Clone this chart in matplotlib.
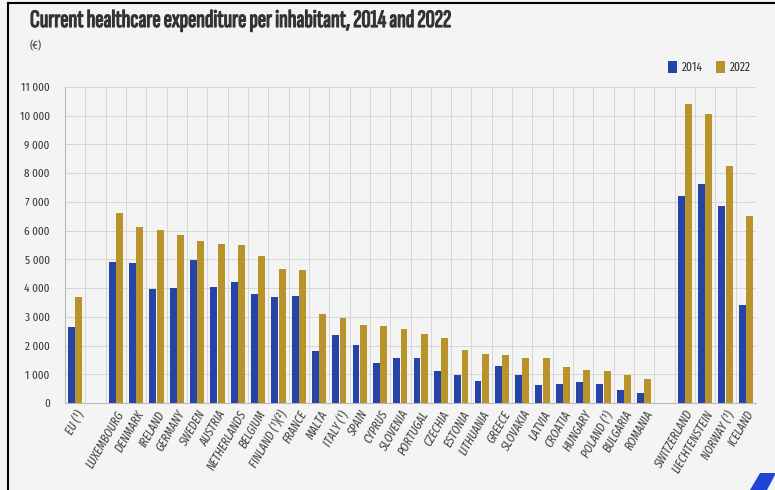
import matplotlib
matplotlib.use("Agg")
import matplotlib.pyplot as plt
import matplotlib.patheffects as pe
from matplotlib.lines import Line2D
from matplotlib.patches import Polygon
import numpy as np

# ---- data (EUR per inhabitant) ----
eu_label = ["EU (¹)"]
eu_2014 = [2645]
eu_2022 = [3685]

countries = ["LUXEMBOURG", "DENMARK", "IRELAND", "GERMANY", "SWEDEN", "AUSTRIA",
             "NETHERLANDS", "BELGIUM", "FINLAND (¹)(²)", "FRANCE", "MALTA", "ITALY (¹)",
             "SPAIN", "CYPRUS", "SLOVENIA", "PORTUGAL", "CZECHIA", "ESTONIA",
             "LITHUANIA", "GREECE", "SLOVAKIA", "LATVIA", "CROATIA", "HUNGARY",
             "POLAND (¹)", "BULGARIA", "ROMANIA"]
countries_2014 = [4895, 4870, 3980, 3990, 4965, 4035, 4220, 3805, 3700, 3735, 1810, 2355,
                  2005, 1405, 1550, 1555, 1125, 965, 755, 1275, 965, 625, 675, 740,
                  675, 440, 350]
countries_2022 = [6610, 6135, 6010, 5845, 5650, 5530, 5485, 5125, 4675, 4615, 3110, 2970,
                  2725, 2680, 2575, 2415, 2260, 1855, 1705, 1660, 1555, 1555, 1265, 1160,
                  1115, 985, 850]

efta = ["SWITZERLAND", "LIECHTENSTEIN", "NORWAY (¹)", "ICELAND"]
efta_2014 = [7195, 7630, 6865, 3400]
efta_2022 = [10415, 10055, 8255, 6520]

# ---- style ----
BLUE = "#2644a7"
GOLD = "#b8932a"
BG = "#f4f4f4"
FONT = ["Fira Sans Extra Condensed", "DejaVu Sans"]
TITLE_FONT = ["Sofia Sans Extra Condensed", "DejaVu Sans"]
TICK_FONT = ["Fira Sans Condensed", "DejaVu Sans"]
plt.rcParams['font.family'] = FONT

my_dpi = 100
fig = plt.figure(figsize=(775 / my_dpi, 490 / my_dpi), dpi=my_dpi, facecolor=BG)
ax = fig.add_axes([65 / 775, 1 - 403 / 490, (756 - 65) / 775, (403 - 87) / 490])
ax.set_facecolor(BG)

# slot positions: EU, gap, EU members, gap, EFTA
labels = eu_label + countries + efta
pos = list(range(len(eu_label))) \
    + list(range(2, 2 + len(countries))) \
    + list(range(3 + len(countries), 3 + len(countries) + len(efta)))
v2014 = eu_2014 + countries_2014 + efta_2014
v2022 = eu_2022 + countries_2022 + efta_2022
pos = np.array(pos)
nslots = pos[-1] + 1

w = 0.34
ax.bar(pos - 0.18, v2014, width=w, color=BLUE, label="2014", zorder=3)
ax.bar(pos + 0.18, v2022, width=w, color=GOLD, label="2022", zorder=3)

ax.set_xlim(-0.5, nslots - 0.5)
ax.set_ylim(0, 11000)
ax.set_yticks(range(0, 11001, 1000))
ax.set_yticklabels([f"{v:,}".replace(",", " ") for v in range(0, 11001, 1000)],
                   fontsize=8, color="#333333", family=TICK_FONT)
ax.set_xticks(pos)
ax.set_xticklabels(labels, rotation=60, ha="right", rotation_mode="anchor",
                   fontsize=9, color="#444444", style="italic")
ax.set_xticks(np.arange(-0.5, nslots, 1), minor=True)
ax.tick_params(axis="both", which="both", length=0)
ax.tick_params(axis="x", pad=4)
ax.tick_params(axis="y", pad=11)

ax.grid(axis="y", color="#d6d6d6", linewidth=0.7, zorder=0)
ax.grid(axis="x", which="minor", color="#d6d6d6", linewidth=0.7, zorder=0)
for s in ["top", "right"]:
    ax.spines[s].set_visible(False)
for s in ["left", "bottom"]:
    ax.spines[s].set_color("#bbbbbb")
    ax.spines[s].set_linewidth(0.8)

leg = ax.legend(loc="lower right", bbox_to_anchor=(1.0, 1.025), ncol=2, frameon=False,
                fontsize=9, handlelength=0.75, handleheight=1.1, handletextpad=0.4,
                columnspacing=1.0, borderaxespad=0)
for t in leg.get_texts():
    t.set_color("#333333")

title = fig.text(30 / 775, 1 - 21 / 490,
                 "Current healthcare expenditure per inhabitant, 2014 and 2022",
                 fontsize=18, fontweight="bold", color="#333333", va="center", ha="left",
                 family=TITLE_FONT)
title.set_path_effects([pe.withStroke(linewidth=0.9, foreground="#333333")])
fig.text(30 / 775, 1 - 46 / 490, "(€)", fontsize=8.5, color="#444444", va="center", ha="left")

# frame edges and logo corner seen in the screenshot
fig.add_artist(Line2D([8 / 775, 1], [1 - 3 / 490, 1 - 3 / 490], color="black", linewidth=1.5))
fig.add_artist(Line2D([8 / 775, 8 / 775], [0, 1 - 3 / 490], color="black", linewidth=1.5))
fig.add_artist(Polygon([(750 / 775, 0), (760 / 775, 17 / 490), (776 / 775, 17 / 490), (767 / 775, 0)],
                       closed=True, transform=fig.transFigure, color="#1f45d4", lw=0))

plt.savefig("out.png", dpi=my_dpi, facecolor=BG)
